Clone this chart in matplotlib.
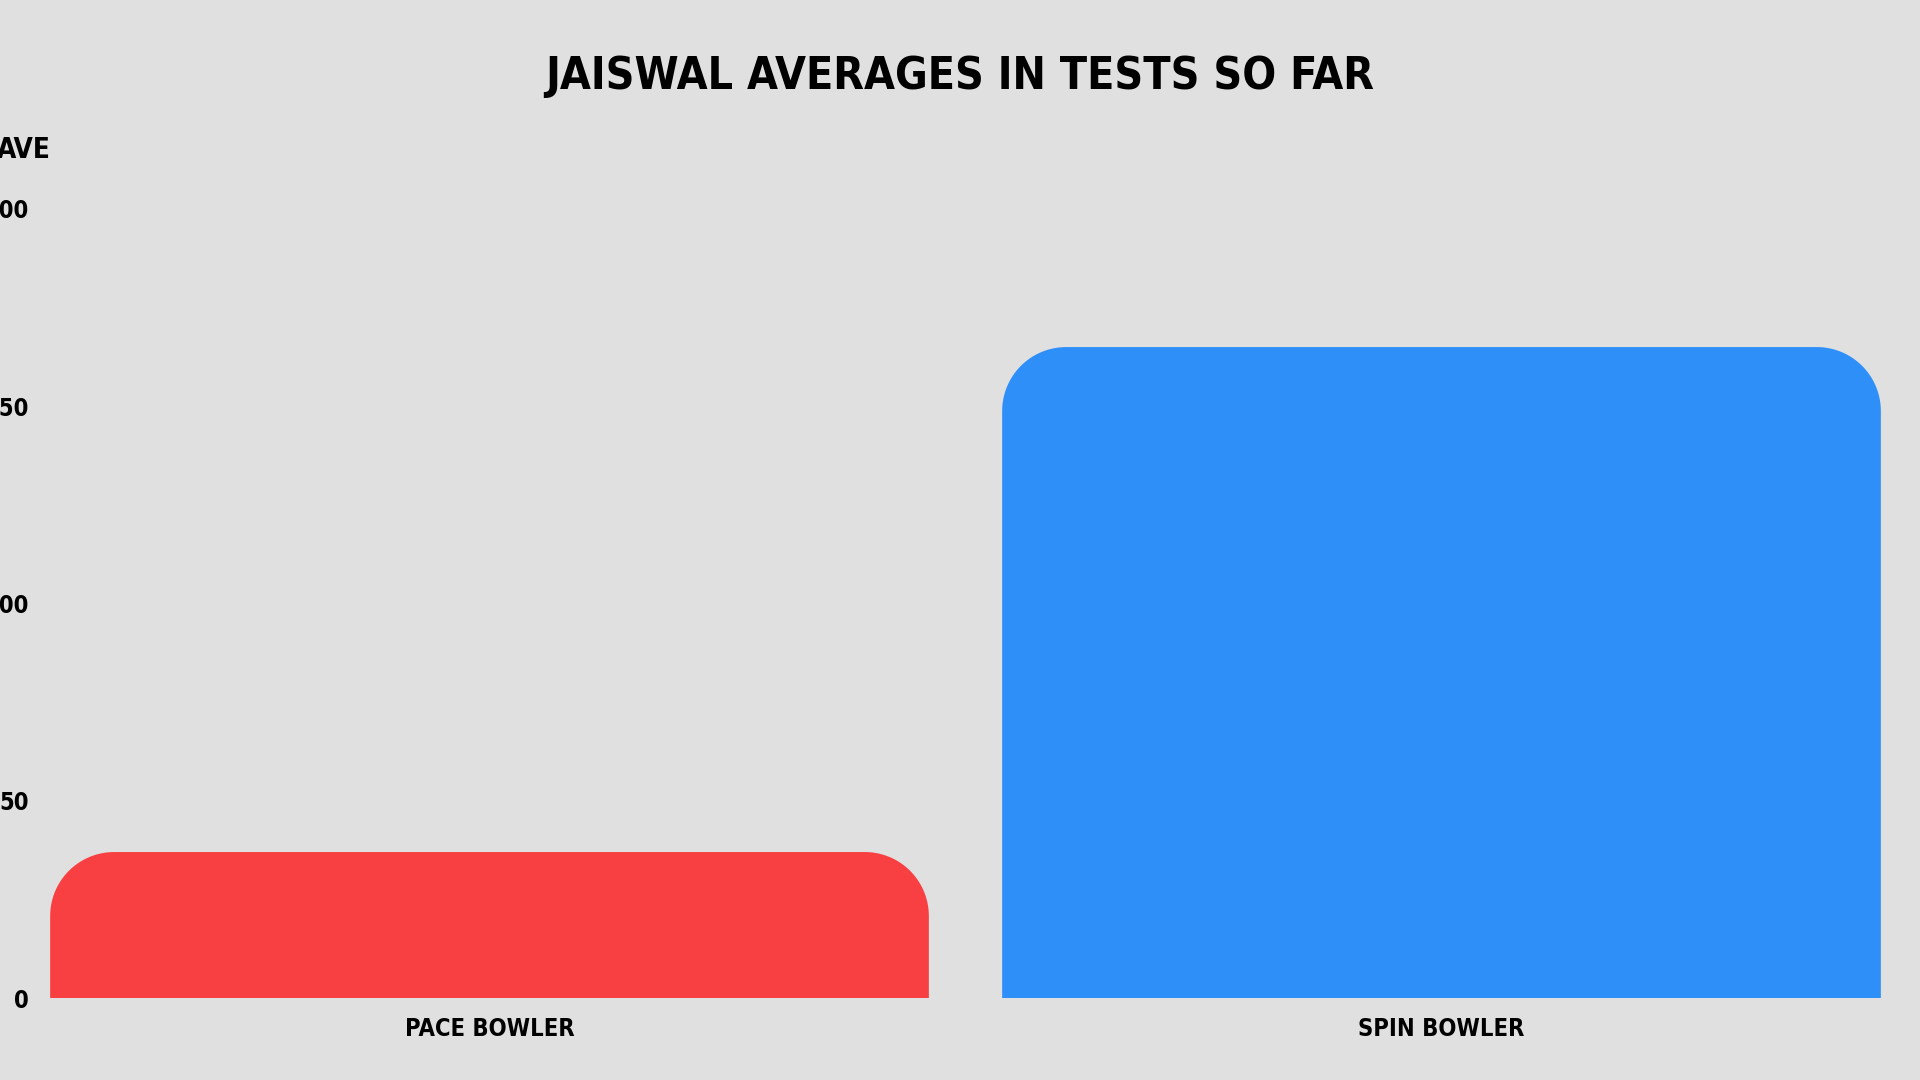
import numpy as np
import matplotlib
matplotlib.use("Agg")
import matplotlib.pyplot as plt
from matplotlib.path import Path
from matplotlib.patches import PathPatch

# Data
CATEGORIES = ["PACE BOWLER", "SPIN BOWLER"]
AVERAGES = [37, 165]
BAR_COLORS = ["#F83F42", "#2E8FF9"]
Y_TICKS = [0, 50, 100, 150, 200]

TITLE = "JAISWAL AVERAGES IN TESTS SO FAR"
Y_LABEL = "AVE"

plt.rcParams["font.family"] = ["DejaVu Sans"]
plt.rcParams["font.stretch"] = "condensed"

W, H = 1920, 1080
fig = plt.figure(figsize=(W / 100, H / 100), dpi=100)
fig.patch.set_facecolor("#E0E0E0")

ax = fig.add_axes([13.5 / W, 82 / H, 1904 / W, 789 / H])
ax.set_facecolor("none")
ax.set_xlim(-0.5, 1.5)
ax.set_ylim(0, 200)


def rounded_top_bar(ax, x, width, height, radius_px, color):
    # radius given in pixels, converted to data units for each axis
    bbox = ax.get_position()
    px_x = bbox.width * W / (ax.get_xlim()[1] - ax.get_xlim()[0])
    px_y = bbox.height * H / (ax.get_ylim()[1] - ax.get_ylim()[0])
    rx = radius_px / px_x
    ry = min(radius_px / px_y, height)
    x0, x1 = x - width / 2, x + width / 2
    t = np.linspace(0, np.pi / 2, 30)
    pts = [(x0, 0)]
    pts += list(zip(x0 + rx - rx * np.cos(t), height - ry + ry * np.sin(t)))
    pts += list(zip(x1 - rx + rx * np.sin(t), height - ry + ry * np.cos(t)))
    pts += [(x1, 0), (x0, 0)]
    codes = [Path.MOVETO] + [Path.LINETO] * (len(pts) - 2) + [Path.CLOSEPOLY]
    ax.add_patch(PathPatch(Path(pts, codes), facecolor=color, edgecolor="none"))


xpos = np.arange(len(CATEGORIES))
for xi, val, col in zip(xpos, AVERAGES, BAR_COLORS):
    rounded_top_bar(ax, xi, 0.923, val, 64, col)

ax.set_xticks(xpos)
ax.set_xticklabels(CATEGORIES, fontsize=17, fontweight="bold")
ax.set_yticks(Y_TICKS)
ax.set_yticklabels([str(v) for v in Y_TICKS], fontsize=17, fontweight="bold")
ax.tick_params(axis="x", length=0, pad=14)
ax.tick_params(axis="y", length=0, pad=-11)
for s in ax.spines.values():
    s.set_visible(False)

fig.text(51 / W, 1 - 150 / H, Y_LABEL, ha="right", va="center",
         fontsize=20, fontweight="bold")
fig.text(0.5, 1 - 76 / H, TITLE, ha="center", va="center",
         fontsize=32, fontweight="bold")

fig.savefig("out.png", dpi=100, facecolor=fig.get_facecolor())
